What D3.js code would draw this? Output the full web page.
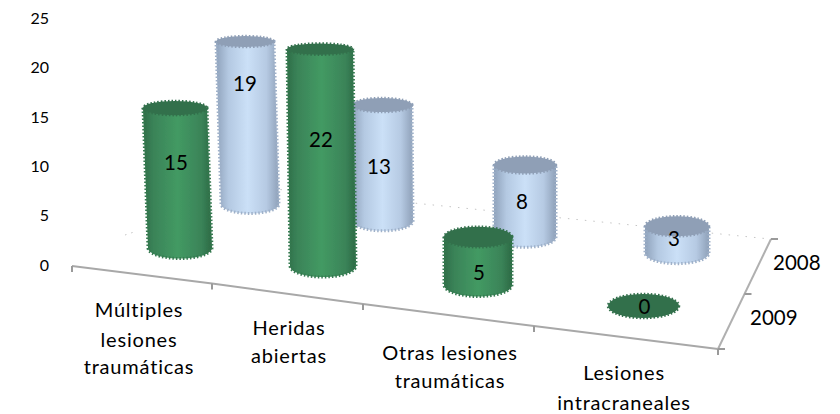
<!DOCTYPE html>
<html><head><meta charset="utf-8">
<script src="https://cdn.jsdelivr.net/npm/d3@7"></script>
<style>
html,body{margin:0;padding:0;background:#fff}
svg{display:block}
text{font-family:Lato,"Open Sans",sans-serif;fill:#000}
</style></head><body>
<div id="chart"></div>
<script>
const categories = [["Múltiples","lesiones","traumáticas"],["Heridas","abiertas"],["Otras lesiones","traumáticas"],["Lesiones","intracraneales"]];
const years = ["2008","2009"];
const values2008 = [19,13,8,3];
const values2009 = [15,22,5,0];
const yTicks = [0,5,10,15,20,25];

const W=840,H=414;
const svg=d3.select("#chart").append("svg").attr("width",W).attr("height",H);
const defs=svg.append("defs");
function grad(id,stops){
  const g=defs.append("linearGradient").attr("id",id).attr("x1",0).attr("x2",1).attr("y1",0).attr("y2",0);
  stops.forEach(([o,c])=>g.append("stop").attr("offset",o).attr("stop-color",c));
}
grad("g2009",[[0,"#2f6e48"],[.15,"#3a8358"],[.5,"#439a63"],[.85,"#3a8358"],[1,"#2c6944"]]);
grad("g2008",[[0,"#8fa2bb"],[.2,"#b4c9e2"],[.5,"#cbe0f7"],[.8,"#b6cae3"],[1,"#8ea0b8"]]);
defs.append("filter").attr("id","soft").append("feGaussianBlur").attr("stdDeviation",0.4);

const idx=[0,1,2,3];
const rows={
  "2008":{vals:values2008,fill:"url(#g2008)",top:"#8f9fb6",edge:"#9fb1c9",
    x:d3.scaleLinear().domain(idx).range([250,383,525,677]),
    y:d3.scaleLinear().domain(idx).range([204,221,237,253]),
    unit:d3.scaleLinear().domain(idx).range([8.55,8.92,9,8.9]),
    lean:d3.scaleLinear().domain(idx).range([5,1,0,0]),
    rx:d3.scaleLinear().domain(idx).range([29,30,31,32]),
    rise:[.74,.47,.49,.54]},
  "2009":{vals:values2009,fill:"url(#g2009)",top:"#33704c",edge:"#357a50",
    x:d3.scaleLinear().domain(idx).range([180,323,478,643.5]),
    y:d3.scaleLinear().domain(idx).range([248,266,285,306]),
    unit:d3.scaleLinear().domain(idx).range([9.33,9.86,9.6,9.6]),
    lean:d3.scaleLinear().domain(idx).range([5,3,0,0]),
    rx:d3.scaleLinear().domain(idx).range([32,33,34,35.5]),
    rise:[.61,.585,.27,0]}
};
const ryAt=d3.scaleLinear().domain([40,306]).range([5.4,12]);

// y axis
const y=d3.scaleLinear().domain([0,25]).range([265,18.5]);
const ax=svg.append("g").attr("transform","translate(49,0)").call(d3.axisLeft(y).tickValues(yTicks).tickSize(0).tickPadding(0).tickFormat(d3.format("d")));
ax.select(".domain").remove();
ax.selectAll("text").style("font-size","16px").style("font-family","Lato,sans-serif").attr("fill","#000");

// floor lines
const frontX=d3.scaleLinear().domain([0,1,2,3,4]).range([72,212,363,534,718]);
const frontY=d3.scaleLinear().domain([0,1,2,3,4]).range([266,283.5,304,326,349]);
const depthX=d3.scaleLinear().domain([0,2]).range([718,771]);
const depthY=d3.scaleLinear().domain([0,2]).range([349,239]);
const line=d3.line();
const floor=svg.append("g").attr("filter","url(#soft)");
floor.append("path").attr("d",line([[255,187],[770,239]])).attr("fill","none").attr("stroke","#c4c4c4").attr("stroke-width",1).attr("stroke-dasharray","1.5 7");
floor.append("path").attr("d",line([[125,235],[134,232]])).attr("fill","none").attr("stroke","#c4c4c4").attr("stroke-width",1).attr("stroke-dasharray","1.5 5");
floor.append("path").attr("d",line(d3.range(5).map(i=>[frontX(i),frontY(i)]))).attr("fill","none").attr("stroke","#a8a8a8").attr("stroke-width",2);
floor.append("path").attr("d",line([0,2].map(i=>[depthX(i),depthY(i)]))).attr("fill","none").attr("stroke","#b0b0b0").attr("stroke-width",2);
floor.selectAll("line.ft").data(d3.range(5)).join("line")
  .attr("x1",frontX).attr("x2",frontX).attr("y1",frontY).attr("y2",d=>frontY(d)+6)
  .attr("stroke","#9a9a9a").attr("stroke-width",2);
floor.selectAll("line.dt").data([0,1,2]).join("line")
  .attr("x1",depthX).attr("x2",d=>depthX(d)+7).attr("y1",depthY).attr("y2",depthY)
  .attr("stroke","#9a9a9a").attr("stroke-width",2);

// cylinders
function cyl(g,r,i){
  const v=r.vals[i], bx=r.x(i), by=r.y(i), h=v*r.unit(i);
  const tx=bx-r.lean(i)*(h?1:0), ty=by-h, rx=r.rx(i);
  const ryB=ryAt(by), ryT=ryAt(ty);
  if(h>0){
    const p=d3.path();
    p.moveTo(tx-rx,ty);
    p.lineTo(bx-rx,by);
    const n=24;
    for(let k=1;k<=n;k++){const a=Math.PI-Math.PI*k/n;p.lineTo(bx+rx*Math.cos(a),by+ryB*Math.sin(a));}
    p.lineTo(tx+rx,ty);
    p.closePath();
    g.append("path").attr("d",p.toString()).attr("fill",r.fill).attr("stroke",r.edge).attr("stroke-width",3).attr("stroke-dasharray","1.5 2");
  }
  g.append("ellipse").attr("cx",tx).attr("cy",ty).attr("rx",rx).attr("ry",ryT).attr("fill",r.top)
    .attr("stroke",r.top).attr("stroke-width",2.5).attr("stroke-dasharray","1.5 2");
}
const bars=svg.append("g").attr("filter","url(#soft)");
const order=[["2008",0],["2009",0],["2008",1],["2009",1],["2008",2],["2009",2],["2008",3],["2009",3]];
order.forEach(([yr,i])=>cyl(bars.append("g"),rows[yr],i));

// value labels
order.forEach(([yr,i])=>{
  const r=rows[yr],h=r.vals[i]*r.unit(i);
  svg.append("text").attr("x",r.x(i)-r.lean(i)-(yr==="2008"&&i>0?3:0)+(yr==="2009"?1:0))
    .attr("y",r.y(i)-h*r.rise[i]+0.5)
    .attr("dy","0.35em").attr("text-anchor","middle").style("font-size","20.5px").text(r.vals[i]);
});

// category labels
const labelX=d3.scaleLinear().domain(idx).range([139,289,450,624]);
const labelY=d3.scaleLinear().domain(idx).range([317,335,360,380]);
const labelGap=[[0,30,57],[0,28],[0,28],[0,30]];
categories.forEach((lines,i)=>{
  lines.forEach((t,j)=>{
    svg.append("text").attr("x",labelX(i)).attr("y",labelY(i)+labelGap[i][j])
      .attr("text-anchor","middle").style("font-size","20px").style("letter-spacing","0.8px").text(t);
  });
});
// depth labels
const depthLabelX=d3.scalePoint().domain(years).range([773,750]);
const depthLabelY=d3.scalePoint().domain(years).range([270,325]);
years.forEach(t=>svg.append("text").attr("x",depthLabelX(t)).attr("y",depthLabelY(t)).style("font-size","20.5px").text(t));
</script>
</body></html>
